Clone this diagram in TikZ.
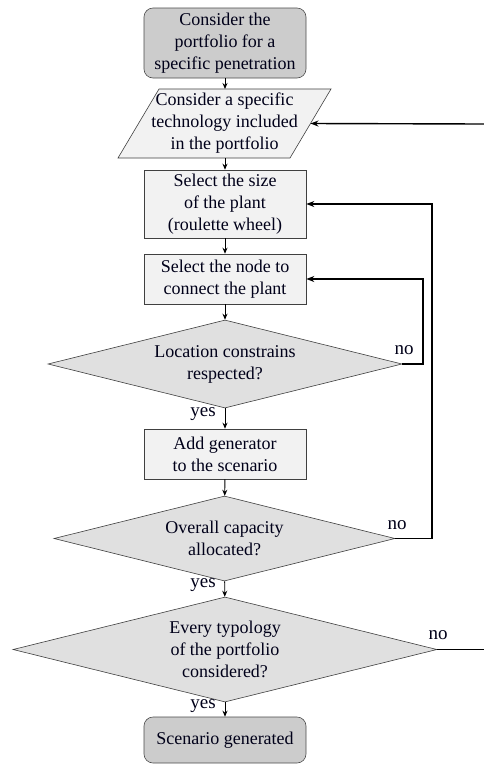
\documentclass[tikz,border=0pt]{standalone}
\usepackage{fontspec}
\setmainfont{Liberation Serif}
\usetikzlibrary{shapes.geometric,arrows.meta}
\begin{document}
\begin{tikzpicture}[x=1pt,y=-1pt,
  txt/.style={align=center,font=\fontsize{18}{22}\selectfont,text=black!90!blue,inner sep=0pt},
  termbox/.style={txt,draw=black!70,fill=black!20,rounded corners=9pt,minimum width=162pt,line width=0.6pt},
  procbox/.style={txt,draw=black!75,fill=black!5,minimum width=162pt,line width=0.6pt},
  decbox/.style={txt,diamond,draw=black!75,fill=black!12,line width=0.6pt},
  flow/.style={-{Stealth[length=6pt,width=5pt]},line width=0.9pt,black},
  loop/.style={-{Stealth[length=8pt,width=6pt]},line width=1.4pt,black},
  lab/.style={font=\fontsize{19}{22}\selectfont,inner sep=0pt,text=black!90!blue}
]
\useasboundingbox (0,0) rectangle (484,764);
\fill[white] (0,0) rectangle (484,764);

\node[termbox,minimum height=70pt] (start) at (225,43) {Consider the\\portfolio for a\\specific penetration};

\draw[draw=black!75,fill=black!5,line width=0.6pt] (118,158) -- (290,158) -- (331,89) -- (159,89) -- cycle;
\node[txt] (tech) at (224.5,123.5) {Consider a specific\\technology included\\in the portfolio};
\coordinate (techT) at (225,89);
\coordinate (techB) at (225,158);
\coordinate (techR) at (310.5,123.5);

\node[procbox,minimum height=68pt] (size) at (225,204) {Select the size\\of the plant\\(roulette wheel)};
\node[procbox,minimum height=50pt] (nodesel) at (225,279) {Select the node to\\connect the plant};
\node[decbox,aspect=4.02,minimum width=354pt,minimum height=88pt] (d1) at (225,364) {Location constrains\\respected?};
\node[procbox,minimum height=50pt] (add) at (225,454) {Add generator\\to the scenario};
\node[decbox,aspect=4.01,minimum width=341pt,minimum height=85pt] (d2) at (224.5,538.5) {Overall capacity\\allocated?};
\node[decbox,aspect=4.04,minimum width=424pt,minimum height=105pt] (d3) at (225,649.5) {Every typology\\of the portfolio\\considered?};
\node[termbox,minimum height=46pt] (final) at (225,740) {Scenario generated};

\coordinate (edgeIn) at (484,124);
\coordinate (edgeOut) at (484,649.5);

\draw[flow] (start) -- (techT);
\draw[flow] (techB) -- (size);
\draw[flow] (size) -- (nodesel);
\draw[flow] (nodesel) -- (d1);
\draw[flow] (d1) -- (add);
\draw[flow] (add) -- (d2);
\draw[flow] (d2) -- (d3);
\draw[flow] (d3) -- (final);

\draw[loop] (d1.east) -- (423,364) |- (nodesel.east);
\draw[loop] (d2.east) -- (432,538.5) |- (size.east);
\draw[line width=1.4pt] (d3.east) -- (edgeOut);
\draw[loop] (edgeIn) -- (techR);

\node[lab] (y1) at (203,414) {yes};
\node[lab] (y2) at (203,585) {yes};
\node[lab] (y3) at (203,706) {yes};
\node[lab] (n1) at (404,350) {no};
\node[lab] (n2) at (397,525) {no};
\node[lab] (n3) at (438,635) {no};
\end{tikzpicture}
\end{document}
